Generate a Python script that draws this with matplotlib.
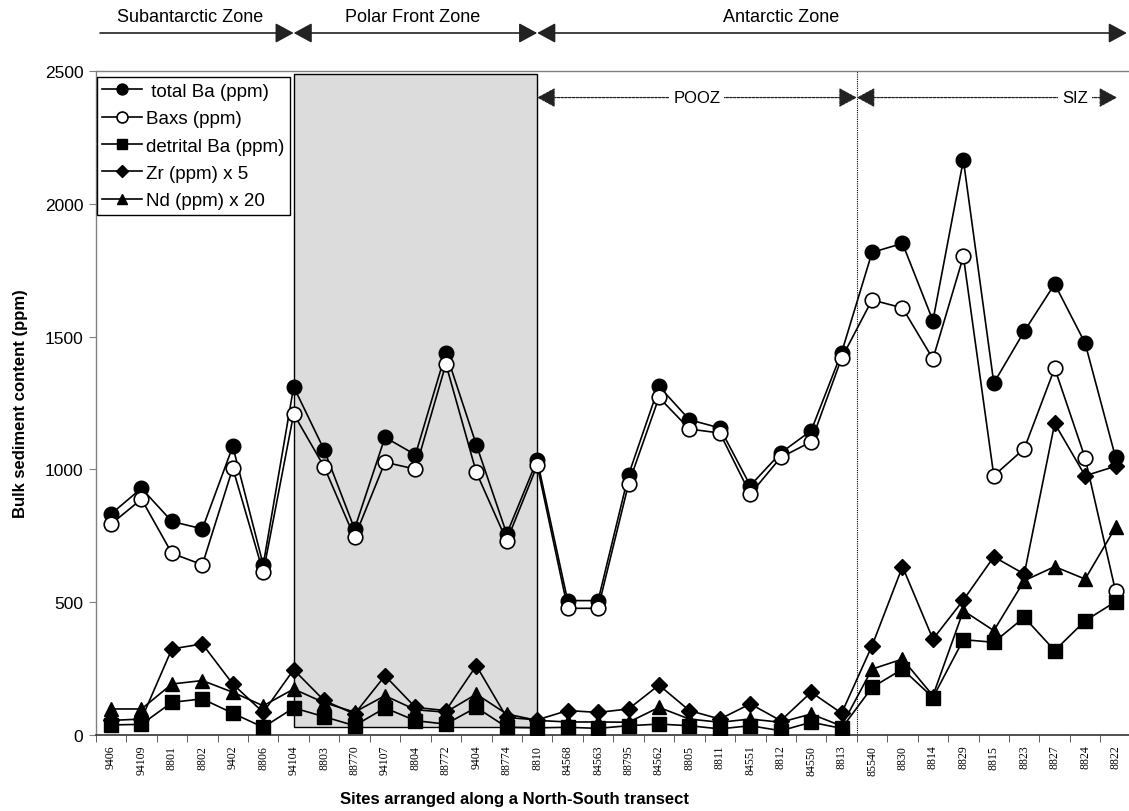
import matplotlib
matplotlib.use("Agg")
import matplotlib.pyplot as plt
from matplotlib.patches import Rectangle
from matplotlib.transforms import blended_transform_factory
import numpy as np

sites = ["9406", "94109", "8801", "8802", "9402", "8806", "94104", "8803", "88770",
         "94107", "8804", "88772", "9404", "88774", "8810", "84568", "84563", "88795",
         "84562", "8805", "8811", "84551", "8812", "84550", "8813", "85540", "8830",
         "8814", "8829", "8815", "8823", "8827", "8824", "8822"]

total_ba = [832, 929, 804, 776, 1087, 641, 1311, 1074, 776, 1121, 1055, 1440, 1093, 757,
            1036, 506, 506, 979, 1313, 1187, 1156, 939, 1062, 1146, 1440, 1817, 1851, 1560,
            2165, 1325, 1520, 1698, 1475, 1045]
baxs = [794, 888, 684, 641, 1005, 612, 1209, 1010, 744, 1027, 1001, 1397, 989, 731, 1015,
        477, 477, 945, 1271, 1152, 1137, 907, 1045, 1104, 1419, 1638, 1608, 1416, 1802,
        976, 1078, 1381, 1043, 541]
detrital_ba = [38, 40, 123, 136, 82, 29, 102, 69, 35, 102, 54, 41, 104, 29, 27, 29, 25, 35,
               41, 35, 23, 35, 16, 48, 25, 179, 248, 141, 359, 349, 443, 318, 430, 502]
zr_x5 = [55, 60, 324, 343, 192, 85, 246, 130, 79, 223, 104, 92, 261, 66, 57, 92, 85, 98,
         188, 92, 60, 117, 54, 161, 82, 336, 634, 361, 508, 671, 606, 1173, 976, 1012]
nd_x20 = [98, 98, 192, 205, 161, 110, 173, 122, 86, 148, 95, 86, 154, 79, 55, 49, 49, 48,
          104, 60, 48, 60, 48, 79, 34, 248, 286, 148, 468, 393, 581, 634, 587, 782]

zone_labels = ["Subantarctic Zone", "Polar Front Zone", "Antarctic Zone"]

plt.rcParams['font.family'] = ['Liberation Sans', 'DejaVu Sans']

W, H = 1129, 812
fig = plt.figure(figsize=(W / 100, H / 100), dpi=100)
ax = fig.add_axes([95.8 / W, 1 - 736 / H, 1035 / W, 664 / H])

x = np.arange(len(sites))

ax.add_patch(Rectangle((6, 30), 8, 2490 - 30, facecolor='#dcdcdc', edgecolor='black',
                       lw=1.0, zorder=0.5))
ax.axvline(24.5, color='black', lw=0.8, ls=(0, (1, 1)), zorder=1)

ax.plot(x, total_ba, '-o', color='black', mfc='black', mec='black', ms=10.5, lw=1.2,
        label=' total Ba (ppm)', zorder=2)
ax.plot(x, baxs, '-o', color='black', mfc='white', mec='black', ms=10.5, lw=1.2, mew=1.2,
        label='Baxs (ppm)', zorder=3)
ax.plot(x, detrital_ba, '-s', color='black', mfc='black', ms=10, lw=1.2,
        label='detrital Ba (ppm)', zorder=6)
ax.plot(x, zr_x5, '-D', color='black', mfc='black', ms=8, lw=1.2,
        label='Zr (ppm) x 5', zorder=5)
ax.plot(x, nd_x20, '-^', color='black', mfc='black', ms=10, lw=1.2,
        label='Nd (ppm) x 20', zorder=4)

ax.set_xlim(-0.5, len(sites) - 0.5)
ax.set_ylim(0, 2500)
ax.set_yticks([0, 500, 1000, 1500, 2000, 2500])
ax.tick_params(axis='y', direction='out', length=5, color='#808080', labelsize=12.5, pad=4)

ax.set_xticks(x)
ax.set_xticklabels(sites, rotation=90, fontsize=8.5, family=['Liberation Serif', 'DejaVu Serif'])
ax.tick_params(axis='x', which='major', length=0, pad=7)
ax.set_xticks(np.arange(-0.5, len(sites), 1), minor=True)
ax.tick_params(axis='x', which='minor', direction='out', length=5, color='#444444')

for s in ['left', 'top']:
    ax.spines[s].set_color('#808080')
    ax.spines[s].set_linewidth(1.0)
ax.spines['right'].set_visible(False)
ax.spines['bottom'].set_color('#333333')
ax.spines['bottom'].set_linewidth(1.2)

ax.set_ylabel('Bulk sediment content (ppm)', fontsize=12, fontweight='bold', labelpad=12)
fig.text(514 / W, 1 - 800 / H, 'Sites arranged along a North-South transect', fontsize=12,
         fontweight='bold', ha='center', va='center')

leg = ax.legend(loc='upper left', bbox_to_anchor=(0.001, 0.991), borderaxespad=0,
                fontsize=13.5, frameon=True, fancybox=False, edgecolor='black',
                framealpha=1, markerscale=0.75, handlelength=2.1, handletextpad=0.2,
                labelspacing=0.55, borderpad=0.3)
leg.get_frame().set_linewidth(1.0)
leg.set_zorder(10)

# top zone arrows
ytop = 1 - 34 / H
ytxt = 1 - 17 / H
arrow_kw = dict(color='#222222', lw=1.2, shrinkA=0, shrinkB=0, mutation_scale=16)
coords = ('data', 'figure fraction')
ax.annotate('', xy=(6.0, ytop), xytext=(-0.36, ytop), xycoords=coords, textcoords=coords,
            arrowprops=dict(arrowstyle='-|>,head_length=0.7,head_width=0.38', **arrow_kw),
            annotation_clip=False)
ax.annotate('', xy=(14.0, ytop), xytext=(6.0, ytop), xycoords=coords, textcoords=coords,
            arrowprops=dict(arrowstyle='<|-|>,head_length=0.7,head_width=0.38', **arrow_kw),
            annotation_clip=False)
ax.annotate('', xy=(33.37, ytop), xytext=(14.0, ytop), xycoords=coords, textcoords=coords,
            arrowprops=dict(arrowstyle='<|-|>,head_length=0.7,head_width=0.38', **arrow_kw),
            annotation_clip=False)
trans = blended_transform_factory(ax.transData, fig.transFigure)
for lab, xc in zip(zone_labels, [2.6, 9.9, 22.0]):
    ax.text(xc, ytxt, lab, transform=trans, ha='center', va='center', fontsize=13)

# POOZ / SIZ arrows
ysub = 2400
sub_kw = dict(color='#222222', lw=0.9, ls=(0, (2, 1)), shrinkA=0, shrinkB=0, mutation_scale=16)
ax.annotate('', xy=(24.5, ysub), xytext=(14.0, ysub),
            arrowprops=dict(arrowstyle='<|-|>,head_length=0.7,head_width=0.38', **sub_kw),
            annotation_clip=False, zorder=7)
ax.annotate('', xy=(33.05, ysub), xytext=(24.5, ysub),
            arrowprops=dict(arrowstyle='<|-|>,head_length=0.7,head_width=0.38', **sub_kw),
            annotation_clip=False, zorder=7)
ax.text(19.24, ysub, 'POOZ', ha='center', va='center', fontsize=12, zorder=8,
        bbox=dict(facecolor='white', edgecolor='none', pad=3))
ax.text(31.66, ysub, 'SIZ', ha='center', va='center', fontsize=12, zorder=8,
        bbox=dict(facecolor='white', edgecolor='none', pad=3))

fig.savefig('out.png', dpi=100)
